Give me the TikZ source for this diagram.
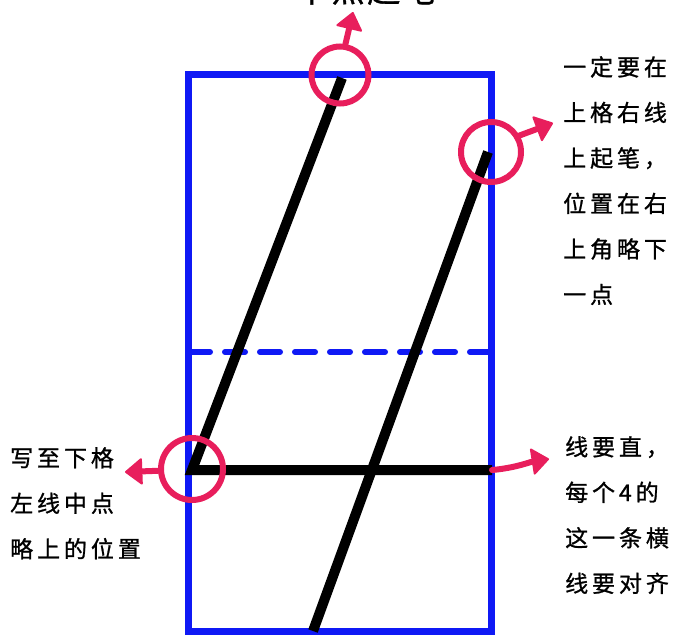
\documentclass[tikz,border=0pt]{standalone}
\usepackage{fontspec}
\newfontfamily\cjk{Noto Sans CJK SC}[LetterSpace=17,FakeBold=1]
\newfontfamily\cjkb{Noto Sans CJK SC}[LetterSpace=8,FakeBold=1]
\usetikzlibrary{arrows.meta}
\definecolor{gridblue}{RGB}{15,25,245}
\definecolor{markpink}{RGB}{232,30,92}
\tikzset{
  gridline/.style={draw=gridblue, line width=7pt},
  dashline/.style={draw=gridblue, line width=6pt, dash pattern=on 20pt off 15pt, line cap=round},
  penstroke/.style={draw=black, line width=10pt, line join=miter},
  ring/.style={circle, draw=markpink, line width=6pt, inner sep=0pt},
  pointer/.style={draw=markpink, line width=6pt, line cap=round,
    arrows={-Triangle[length=18pt 0, width=28pt 0, line width=2pt, round]}},
  note/.style={anchor=north west, inner sep=0pt, align=left, font=\cjk\fontsize{23}{45.5}\selectfont}
}
\begin{document}
\begin{tikzpicture}[x=1pt,y=-1pt]
\useasboundingbox (0,0) rectangle (677,635);
\fill[white] (0,0) rectangle (677,635);
\begin{scope}
\clip (0,0) rectangle (677,635);
% partially visible caption at the top
\node[anchor=base, inner sep=0pt, font=\cjkb\fontsize{33}{33}\selectfont] (cap) at (366,2) {下点起笔};
% grid
\coordinate (gtl) at (188.5,74);
\coordinate (gbr) at (491.5,631);
\coordinate (dl) at (190,352);
\coordinate (dr) at (490,352);
\draw[gridline] (gtl) rectangle (gbr);
\draw[dashline] (dl) -- (dr);
% the strokes of 4
\coordinate (s1) at (342,78);
\coordinate (s2) at (192,470);
\coordinate (s3) at (492,470);
\coordinate (r1) at (488,152);
\coordinate (r2) at (313,631);
\draw[penstroke] (s1) -- (s2) -- (s3);
\draw[penstroke, line cap=butt] (r1) -- (r2);
\end{scope}
% rings
\node[ring, minimum size=57pt] (ctop) at (340,75) {};
\node[ring, minimum size=60pt] (cright) at (491,152) {};
\node[ring, minimum size=62pt] (cleft) at (192,469) {};
% pointers
\coordinate (atop) at (353,12);
\coordinate (aright) at (553,123);
\coordinate (aleft) at (125,472);
\coordinate (amid) at (549,459);
\draw[pointer] (ctop.80) -- (atop);
\draw[pointer] (cright.30) -- (aright);
\draw[pointer] (cleft.183) -- (aleft);
\draw[pointer] (s3) .. controls (515,468) and (530,462) .. (amid);
% notes
\node[note] (ntr) at (563,56) {一定要在\\上格右线\\上起笔，\\位置在右\\上角略下\\一点};
\node[note] (nl) at (10,447) {写至下格\\左线中点\\略上的位置};
\node[note] (nbr) at (565,436) {线要直，\\每个4的\\这一条横\\线要对齐};
\end{tikzpicture}
\end{document}
